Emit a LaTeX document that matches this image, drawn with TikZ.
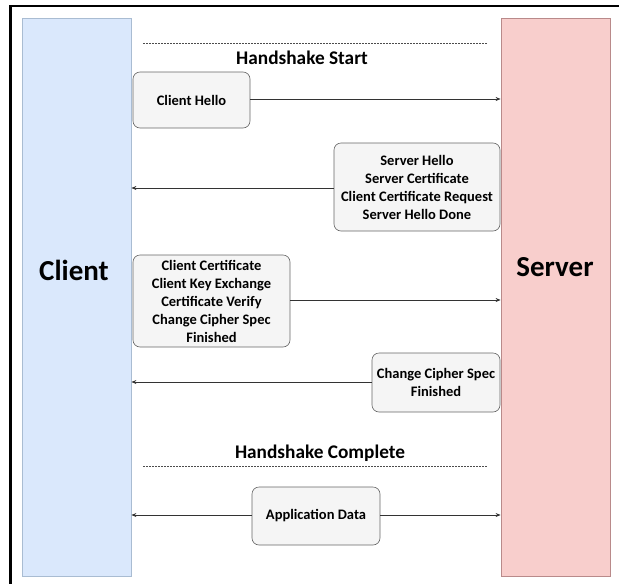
\documentclass[tikz,border=0pt]{standalone}
\usepackage{fontspec}
\setmainfont{Carlito}
\usetikzlibrary{arrows.meta}
\definecolor{cfill}{HTML}{DAE8FC}
\definecolor{cline}{HTML}{A9BCD2}
\definecolor{sfill}{HTML}{F8CECC}
\definecolor{sline}{HTML}{B98A8A}
\definecolor{mfill}{HTML}{F5F5F5}
\definecolor{mline}{HTML}{666666}
\definecolor{aline}{HTML}{333333}
\begin{document}
\begin{tikzpicture}[x=1pt,y=-1pt,
  lane/.style={draw, line width=0.8pt, minimum width=109pt, minimum height=558pt, inner sep=0pt},
  lanetext/.style={font=\bfseries\fontsize{29}{32}\selectfont, inner sep=0pt},
  msg/.style={draw=mline, fill=mfill, rounded corners=7pt, line width=0.6pt, inner sep=0pt,
    align=center, font=\bfseries\fontsize{14.5}{18}\selectfont},
  arr/.style={draw=aline, line width=0.7pt, -{Stealth[length=5pt,width=4pt]}},
  sep/.style={draw=gray!60!black, line width=0.6pt, dash pattern=on 2pt off 1pt},
  phase/.style={font=\bfseries\fontsize{19.3}{22}\selectfont, inner sep=0pt}]
\useasboundingbox (0,0) rectangle (619,584);
% outer frame (top and left edges)
\draw[line width=2.4pt] (10.5,601) -- (10.5,6) -- (625,6);
\node[lane, draw=cline, fill=cfill] (cli) at (76.5,297) {};
\node[lane, draw=sline, fill=sfill] (srv) at (555.5,297) {};
\node[lanetext] (clit) at (74,270) {Client};
\node[lanetext] (srvt) at (555,267) {Server};
% phase separators
\coordinate (d1a) at (143,43); \coordinate (d1b) at (487,43);
\draw[sep] (d1a) -- (d1b);
\node[phase] (hs) at (302,58) {Handshake Start};
\coordinate (d2a) at (143,466); \coordinate (d2b) at (487,466);
\draw[sep] (d2a) -- (d2b);
\node[phase] (hc) at (320,453) {Handshake Complete};
% messages
\node[msg, minimum width=117pt, minimum height=56pt] (m1) at (191.5,100) {Client Hello};
\node[msg, minimum width=166pt, minimum height=88pt] (m2) at (417,187) {Server Hello\\Server Certificate\\Client Certificate Request\\Server Hello Done};
\node[msg, minimum width=157pt, minimum height=92pt] (m3) at (211.5,301) {Client Certificate\\Client Key Exchange\\Certificate Verify\\Change Cipher Spec\\Finished};
\node[msg, minimum width=128pt, minimum height=59pt] (m4) at (436,382.5) {Change Cipher Spec\\Finished};
\node[msg, minimum width=128pt, minimum height=58pt] (m5) at (316,516) {Application Data};
% arrows
\draw[arr] (m1.east |- 0,99) -- (srv.west |- 0,99);
\draw[arr] (m2.west |- 0,188) -- (cli.east |- 0,188);
\draw[arr] (m3.east |- 0,300) -- (srv.west |- 0,300);
\draw[arr] (m4.west |- 0,382) -- (cli.east |- 0,382);
\draw[arr] (m5.west |- 0,515) -- (cli.east |- 0,515);
\draw[arr] (m5.east |- 0,515) -- (srv.west |- 0,515);
\end{tikzpicture}
\end{document}
